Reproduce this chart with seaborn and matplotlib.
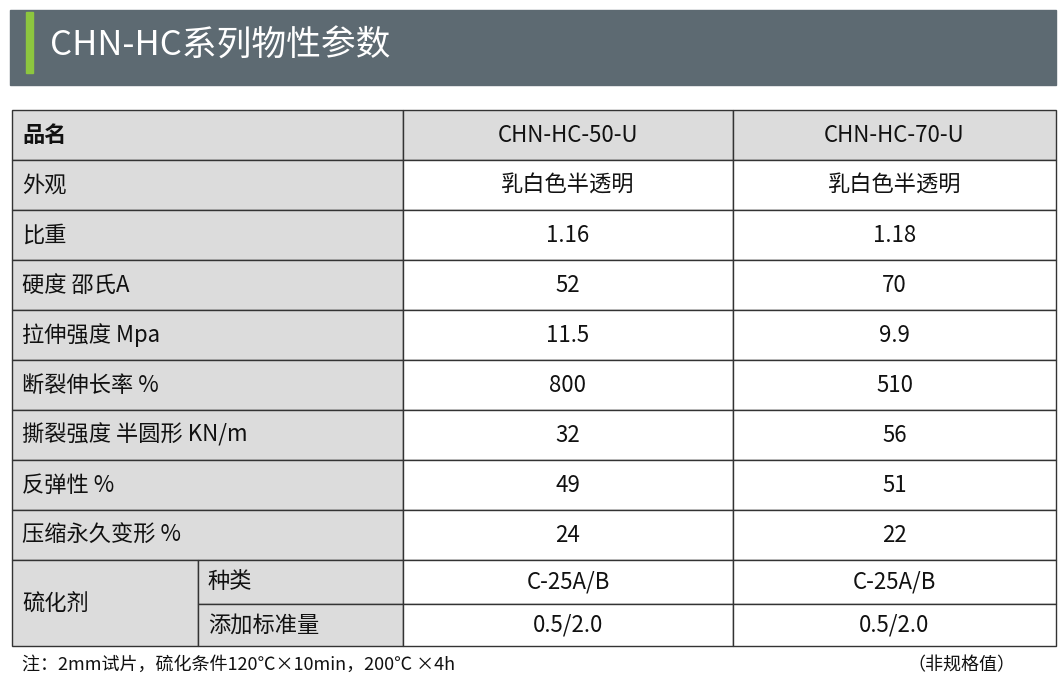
import matplotlib
matplotlib.use('Agg')
import matplotlib.pyplot as plt
import seaborn as sns
from matplotlib.patches import Rectangle

sns.set_theme(style='white')
plt.rcParams['font.family'] = ['Noto Sans CJK SC', 'DejaVu Sans']

title = 'CHN-HC系列物性参数'
products = ['CHN-HC-50-U', 'CHN-HC-70-U']
props = ['外观', '比重', '硬度 邵氏A', '拉伸强度 Mpa', '断裂伸长率 %',
         '撕裂强度 半圆形 KN/m', '反弹性 %', '压缩永久变形 %']
vals_50 = ['乳白色半透明', '1.16', '52', '11.5', '800', '32', '49', '24']
vals_70 = ['乳白色半透明', '1.18', '70', '9.9', '510', '56', '51', '22']
cure_group = '硫化剂'
cure_items = ['种类', '添加标准量']
cure_50 = ['C-25A/B', '0.5/2.0']
cure_70 = ['C-25A/B', '0.5/2.0']
note_left = '注：2mm试片，硫化条件120℃×10min，200℃ ×4h'
note_right = '（非规格值）'

fig = plt.figure(figsize=(10.64, 6.84), dpi=100)
ax = fig.add_axes([0, 0, 1, 1])
ax.set_xlim(0, 1064)
ax.set_ylim(684, 0)
ax.axis('off')

# header bar
ax.add_patch(Rectangle((10, 10), 1046, 75, color='#5d6a72'))
ax.add_patch(Rectangle((26, 12), 7, 61, color='#8dc63f'))
ax.text(50, 46, title, color='white', fontsize=25, fontweight='medium', va='center')

gray = '#dcdcdc'
lc = '#333333'
x0, x1, x2, x3 = 12, 403, 733, 1056
xs = 198
fs = 16

def cell(x, y, w, h, text, bg='white', ha='center', weight='normal'):
    ax.add_patch(Rectangle((x, y), w, h, facecolor=bg, edgecolor=lc, lw=1))
    tx = x + w / 2 if ha == 'center' else x + 10
    ax.text(tx, y + h / 2, text, ha=ha, va='center', fontsize=fs,
            color='#111111', fontweight=weight)

rh = 50
y = 110
cell(x0, y, x1 - x0, rh, '品名', gray, 'left', 'bold')
cell(x1, y, x2 - x1, rh, products[0], gray)
cell(x2, y, x3 - x2, rh, products[1], gray)
y += rh
for p, a, b in zip(props, vals_50, vals_70):
    cell(x0, y, x1 - x0, rh, p, gray, 'left')
    cell(x1, y, x2 - x1, rh, a)
    cell(x2, y, x3 - x2, rh, b)
    y += rh

sub_h = [44, 42]
cell(x0, y, xs - x0, sum(sub_h), cure_group, gray, 'left')
for h, item, a, b in zip(sub_h, cure_items, cure_50, cure_70):
    cell(xs, y, x1 - xs, h, item, gray, 'left')
    cell(x1, y, x2 - x1, h, a)
    cell(x2, y, x3 - x2, h, b)
    y += h

ax.text(22, 665, note_left, fontsize=13, va='center', color='#111111')
ax.text(1015, 665, note_right, fontsize=13, va='center', ha='right', color='#111111')

fig.savefig('out.png', dpi=100)
